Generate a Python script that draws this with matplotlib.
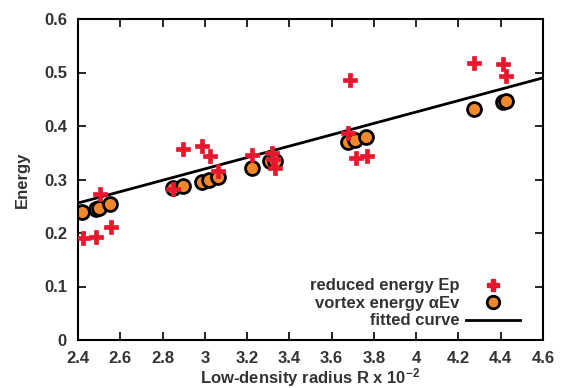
import matplotlib
matplotlib.use("Agg")
import matplotlib.pyplot as plt
from matplotlib.lines import Line2D

plt.rcParams['font.family'] = ['Liberation Sans', 'DejaVu Sans']
plt.rcParams['font.weight'] = 'bold'
plt.rcParams['mathtext.fontset'] = 'custom'
plt.rcParams['mathtext.rm'] = 'Liberation Sans:bold'
plt.rcParams['mathtext.bf'] = 'Liberation Sans:bold'
plt.rcParams['mathtext.default'] = 'bf'

TXT = '#333333'

ep_x = [2.424, 2.485, 2.504, 2.556, 2.849, 2.897, 2.987, 3.024, 3.062, 3.223, 3.318, 3.322, 3.332,
        3.677, 3.686, 3.715, 3.767, 4.273, 4.410, 4.425]
ep_y = [0.190, 0.193, 0.273, 0.211, 0.282, 0.357, 0.363, 0.344, 0.316, 0.346, 0.350, 0.338, 0.322,
        0.387, 0.486, 0.340, 0.344, 0.518, 0.515, 0.493]

ev_x = [2.419, 2.485, 2.499, 2.551, 2.849, 2.897, 2.987, 3.020, 3.062, 3.223, 3.308, 3.332,
        3.677, 3.710, 3.762, 4.273, 4.410, 4.425]
ev_y = [0.239, 0.245, 0.247, 0.254, 0.284, 0.288, 0.295, 0.299, 0.305, 0.322, 0.335, 0.335,
        0.370, 0.373, 0.379, 0.432, 0.445, 0.446]

fit_x = [2.4, 4.6]
fit_y = [0.256, 0.490]

xticks = [2.4, 2.6, 2.8, 3.0, 3.2, 3.4, 3.6, 3.8, 4.0, 4.2, 4.4, 4.6]
xticklabels = ['2.4', '2.6', '2.8', '3', '3.2', '3.4', '3.6', '3.8', '4', '4.2', '4.4', '4.6']
yticks = [0, 0.1, 0.2, 0.3, 0.4, 0.5, 0.6]
yticklabels = ['0', '0.1', '0.2', '0.3', '0.4', '0.5', '0.6']

fig = plt.figure(figsize=(5.69, 3.88), dpi=100)
ax = fig.add_axes([78 / 569, 1 - 340 / 388, (543 - 78) / 569, (340 - 19) / 388])

ax.plot(fit_x, fit_y, color='black', lw=2, zorder=1)
ax.plot(ev_x, ev_y, 'o', ms=10, mfc='#f0892a', mec='black', mew=2, zorder=2)
ax.plot(ep_x, ep_y, 'P', ms=10, color='#e8172d', mec='#e8172d', mew=0.5, zorder=3)

ax.set_xlim(2.4, 4.6)
ax.set_ylim(0, 0.6)
ax.set_xticks(xticks)
ax.set_xticklabels(xticklabels)
ax.set_yticks(yticks)
ax.set_yticklabels(yticklabels)
ax.tick_params(direction='in', top=True, right=True, labelsize=12, length=6, width=1.2,
               labelcolor=TXT)
ax.tick_params(axis='x', pad=8)
ax.tick_params(axis='y', pad=8)
for s in ax.spines.values():
    s.set_linewidth(1.5)

ax.set_xlabel('Low-density radius R x 10$^{-2}$', fontsize=12, fontweight='bold', color=TXT)
ax.xaxis.label.set_va('baseline')
ax.xaxis.set_label_coords(0.5, -(383 - 340) / 321)
ax.set_ylabel('Energy', fontsize=12, fontweight='bold', color=TXT, labelpad=10)

handles = [
    Line2D([], [], ls='none', marker='P', ms=9, color='#e8172d'),
    Line2D([], [], ls='none', marker='o', ms=9, mfc='#f0892a', mec='black', mew=2),
    Line2D([], [], color='black', lw=2),
]
labels = ['reduced energy Ep', 'vortex energy \u03b1Ev', 'fitted curve']
leg = ax.legend(handles, labels, loc='lower right', markerfirst=False, frameon=False,
                prop={'size': 12, 'weight': 'bold'}, handlelength=3.2, handletextpad=0.4,
                labelspacing=0.15, borderaxespad=0.3, bbox_to_anchor=(0.975, 0.0))
for t in leg.get_texts():
    t.set_ha('right')
    t.set_color(TXT)

fig.savefig('out.png', dpi=100)
